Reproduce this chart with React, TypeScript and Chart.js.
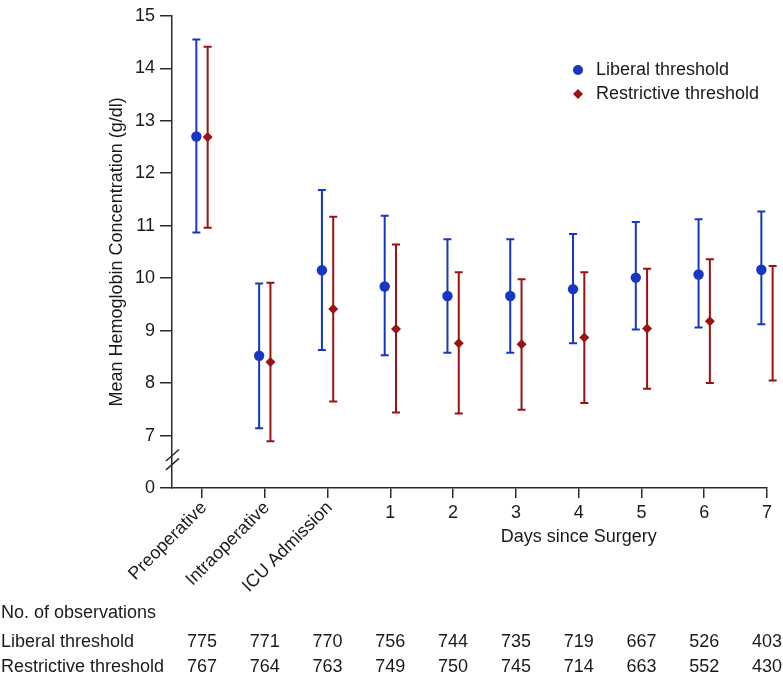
import React, { useEffect, useRef } from 'react';
import { Chart, registerables } from 'chart.js';

Chart.register(...registerables);

// ---------- data ----------
const categories = ['Preoperative', 'Intraoperative', 'ICU Admission', '1', '2', '3', '4', '5', '6', '7'];
const rotatedCount = 3;

const liberalMean = [12.70, 8.52, 10.15, 9.84, 9.66, 9.66, 9.79, 10.01, 10.07, 10.16];
const liberalUpper = [14.55, 9.90, 11.68, 11.19, 10.74, 10.74, 10.84, 11.07, 11.12, 11.27];
const liberalLower = [10.87, 7.14, 8.63, 8.53, 8.58, 8.58, 8.76, 9.02, 9.06, 9.12];

const restrictiveMean = [12.69, 8.40, 9.41, 9.03, 8.76, 8.74, 8.87, 9.04, 9.18, 9.14];
const restrictiveUpper = [14.41, 9.91, 11.17, 10.64, 10.11, 9.98, 10.11, 10.18, 10.36, 10.23];
const restrictiveLower = [10.96, 6.89, 7.65, 7.44, 7.42, 7.49, 7.62, 7.89, 8.00, 8.05];

const liberalObs = [775, 771, 770, 756, 744, 735, 719, 667, 526, 403];
const restrictiveObs = [767, 764, 763, 749, 750, 745, 714, 663, 552, 430];

// y axis: broken axis, the lowest tick (internal 6) is labelled "0"
const yTickValues = [6, 7, 8, 9, 10, 11, 12, 13, 14, 15];
const yTickLabels = ['0', '7', '8', '9', '10', '11', '12', '13', '14', '15'];

const seriesNames = ['Liberal threshold', 'Restrictive threshold'];
const tableTitle = 'No. of observations';
const xTitle = 'Days since Surgery';
const yTitle = 'Mean Hemoglobin Concentration (g/dl)';

// ---------- style ----------
const BLUE = '#1836c4';
const RED = '#9a1212';
const AXIS = '#2a2a2a';
const TEXT = '#1a1a1a';
const FONT = '"Liberation Sans", Arial, Helvetica, sans-serif';
const FS = 18;
const OFFSET = 0.09;

const errorBarPlugin = {
  id: 'errorBars',
  beforeDatasetsDraw(chart: any) {
    const { ctx, scales } = chart;
    const xs = scales.x;
    const ys = scales.y;
    const sets = [
      { lo: liberalLower, hi: liberalUpper, off: -OFFSET, color: BLUE },
      { lo: restrictiveLower, hi: restrictiveUpper, off: OFFSET, color: RED },
    ];
    ctx.save();
    ctx.lineWidth = 2;
    sets.forEach((s) => {
      ctx.strokeStyle = s.color;
      s.lo.forEach((lo, i) => {
        const x = xs.getPixelForValue(i + s.off);
        const y1 = ys.getPixelForValue(s.hi[i]);
        const y2 = ys.getPixelForValue(lo);
        ctx.beginPath();
        ctx.moveTo(x, y1);
        ctx.lineTo(x, y2);
        ctx.moveTo(x - 4, y1);
        ctx.lineTo(x + 4, y1);
        ctx.moveTo(x - 4, y2);
        ctx.lineTo(x + 4, y2);
        ctx.stroke();
      });
    });
    ctx.restore();
  },
};

const decorPlugin = {
  id: 'decor',
  afterDraw(chart: any) {
    const { ctx, scales, chartArea } = chart;
    const xs = scales.x;
    const ys = scales.y;
    ctx.save();

    // axis break marks
    ctx.strokeStyle = AXIS;
    ctx.lineWidth = 1.5;
    [6.62, 6.45].forEach((v) => {
      const y = ys.getPixelForValue(v);
      const x = chartArea.left;
      ctx.beginPath();
      ctx.moveTo(x - 6, y + 5.5);
      ctx.lineTo(x + 7, y - 6);
      ctx.stroke();
    });

    ctx.fillStyle = TEXT;
    ctx.font = `${FS}px ${FONT}`;

    // rotated category labels
    for (let i = 0; i < rotatedCount; i++) {
      const x = xs.getPixelForValue(i) + 2;
      const y = chartArea.bottom + 17;
      ctx.save();
      ctx.translate(x, y);
      ctx.rotate(-Math.PI / 4);
      ctx.textAlign = 'right';
      ctx.textBaseline = 'middle';
      ctx.fillText(categories[i], 0, 0);
      ctx.restore();
    }

    // x axis title
    ctx.textAlign = 'center';
    ctx.textBaseline = 'middle';
    ctx.fillText(xTitle, xs.getPixelForValue(6), chartArea.bottom + 49);

    // legend
    const legendX = 578;
    const legendY = [70, 94];
    ctx.fillStyle = BLUE;
    ctx.beginPath();
    ctx.arc(legendX, legendY[0], 5, 0, Math.PI * 2);
    ctx.fill();
    ctx.fillStyle = RED;
    ctx.beginPath();
    ctx.moveTo(legendX, legendY[1] - 5);
    ctx.lineTo(legendX + 5, legendY[1]);
    ctx.lineTo(legendX, legendY[1] + 5);
    ctx.lineTo(legendX - 5, legendY[1]);
    ctx.closePath();
    ctx.fill();
    ctx.fillStyle = TEXT;
    ctx.textAlign = 'left';
    ctx.fillText(seriesNames[0], legendX + 18, legendY[0]);
    ctx.fillText(seriesNames[1], legendX + 18, legendY[1]);

    // observation table
    const rowY = [613, 642, 667];
    ctx.textAlign = 'left';
    ctx.fillText(tableTitle, 1, rowY[0]);
    ctx.fillText(seriesNames[0], 1, rowY[1]);
    ctx.fillText(seriesNames[1], 1, rowY[2]);
    ctx.textAlign = 'center';
    liberalObs.forEach((n, i) => ctx.fillText(String(n), xs.getPixelForValue(i), rowY[1]));
    restrictiveObs.forEach((n, i) => ctx.fillText(String(n), xs.getPixelForValue(i), rowY[2]));

    ctx.restore();
  },
};

export default function App() {
  const ref = useRef<HTMLCanvasElement | null>(null);

  useEffect(() => {
    if (!ref.current) return;
    Chart.defaults.font.family = FONT;
    Chart.defaults.font.size = FS;
    Chart.defaults.color = TEXT;

    const chart = new Chart(ref.current, {
      type: 'scatter',
      data: {
        datasets: [
          {
            label: seriesNames[0],
            data: liberalMean.map((v, i) => ({ x: i - OFFSET, y: v })),
            pointStyle: 'circle',
            pointRadius: 5.2,
            backgroundColor: BLUE,
            borderColor: BLUE,
            borderWidth: 0,
            showLine: false,
          },
          {
            label: seriesNames[1],
            data: restrictiveMean.map((v, i) => ({ x: i + OFFSET, y: v })),
            pointStyle: 'rectRot',
            pointRadius: 5,
            backgroundColor: RED,
            borderColor: RED,
            borderWidth: 0,
            showLine: false,
          },
        ],
      },
      options: {
        animation: false,
        responsive: false,
        maintainAspectRatio: false,
        events: [],
        layout: { padding: { left: 100, right: 16, top: 11, bottom: 0 } },
        plugins: {
          legend: { display: false },
          tooltip: { enabled: false },
        },
        scales: {
          x: {
            type: 'linear',
            min: -0.478,
            max: 9,
            afterBuildTicks: (s: any) => {
              s.ticks = categories.map((_, i) => ({ value: i }));
            },
            afterFit: (s: any) => {
              s.height = 189;
            },
            ticks: {
              autoSkip: false,
              maxRotation: 0,
              minRotation: 0,
              padding: 4,
              color: TEXT,
              font: { size: FS, family: FONT },
              callback: (v: any) => {
                const i = Math.round(Number(v));
                return i >= rotatedCount ? categories[i] : '';
              },
            },
            grid: { drawOnChartArea: false, drawTicks: true, tickLength: 10, color: AXIS, lineWidth: 1.5 },
            border: { display: true, color: AXIS, width: 1.5 },
          },
          y: {
            type: 'linear',
            min: 6,
            max: 15,
            afterBuildTicks: (s: any) => {
              s.ticks = yTickValues.map((v) => ({ value: v }));
            },
            afterFit: (s: any) => {
              s.width = 72;
            },
            ticks: {
              padding: 5,
              color: TEXT,
              font: { size: FS, family: FONT },
              callback: (v: any) => {
                const idx = yTickValues.indexOf(Number(v));
                return idx >= 0 ? yTickLabels[idx] : '';
              },
            },
            grid: { drawOnChartArea: false, drawTicks: true, tickLength: 12, color: AXIS, lineWidth: 1.5 },
            border: { display: true, color: AXIS, width: 1.5 },
            title: {
              display: true,
              text: yTitle,
              color: TEXT,
              font: { size: FS, family: FONT },
              padding: { top: 6, bottom: 0 },
            },
          },
        },
      },
      plugins: [errorBarPlugin, decorPlugin],
    } as any);

    return () => chart.destroy();
  }, []);

  return (
    <canvas
      ref={ref}
      width={783}
      height={677}
      style={{ position: 'absolute', left: 0, top: 0, width: 783, height: 677, display: 'block' }}
    />
  );
}
